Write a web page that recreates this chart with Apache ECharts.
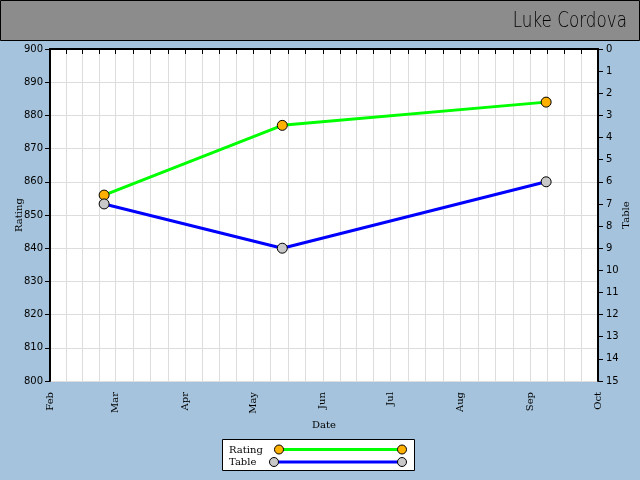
<!DOCTYPE html>
<html>
<head>
<meta charset="utf-8">
<script src="https://cdn.jsdelivr.net/npm/echarts@6/dist/echarts.min.js"></script>
<style>html,body{margin:0;padding:0;}#c{width:640px;height:480px;}</style>
</head>
<body>
<div id="c"></div>
<script>
// ---- data ----
var dates = ['2012-02-25', '2012-05-14', '2012-09-08'];
var rating = [856, 877, 884];
var table = [7, 9, 6];
var monthNames = ['Jan','Feb','Mar','Apr','May','Jun','Jul','Aug','Sep','Oct','Nov','Dec'];
var monthStarts = ['2012-02-01','2012-03-01','2012-04-01','2012-05-01','2012-06-01','2012-07-01','2012-08-01','2012-09-01','2012-10-01'];
var titleText = 'Luke Cordova';

// ---- styles ----
var GREEN = '#00ff00', BLUE = '#0000ff', ORANGE = '#ffb000', GREY = '#c8c8c8';
var SERIF = 'DejaVu Serif', SANS = 'DejaVu Sans';

function ts(s) { var p = s.split('-'); return new Date(+p[0], +p[1] - 1, +p[2]).getTime(); }
var monthTs = monthStarts.map(ts);
var quarterTicks = [];
for (var i = 0; i < monthTs.length - 1; i++) {
  var a = monthTs[i], b = monthTs[i + 1];
  for (var k = 0; k < 4; k++) quarterTicks.push(a + (b - a) * k / 4);
}
quarterTicks.push(monthTs[monthTs.length - 1]);

var chart = echarts.init(document.getElementById('c'), null, {renderer: 'canvas'});
chart.setOption({
  animation: false,
  backgroundColor: '#a5c3dc',
  grid: {left: 50, right: 42, top: 49, bottom: 99, show: true, backgroundColor: '#ffffff', borderWidth: 0,
         containLabel: false, outerBoundsMode: 'none'},
  xAxis: {
    type: 'value',
    min: monthTs[0], max: monthTs[monthTs.length - 1],
    name: 'Date', nameLocation: 'middle', nameGap: 39, nameMoveOverlap: false,
    nameTextStyle: {fontFamily: SERIF, fontSize: 10, color: '#000'},
    axisLine: {lineStyle: {color: '#000', width: 2}},
    axisTick: {show: true, length: 5, lineStyle: {color: '#000', width: 1}, customValues: quarterTicks},
    splitLine: {show: true, lineStyle: {color: '#dddddd', width: 1}},
    axisLabel: {
      customValues: monthTs, rotate: 90, margin: 11, color: '#000',
      fontFamily: SERIF, fontSize: 10,
      formatter: function (v) { return monthNames[new Date(v).getMonth()]; }
    }
  },
  yAxis: [{
    type: 'value', min: 800, max: 900, interval: 10, position: 'left',
    name: 'Rating', nameLocation: 'middle', nameGap: 26, nameRotate: 90, nameMoveOverlap: false,
    nameTextStyle: {fontFamily: SERIF, fontSize: 10, color: '#000'},
    axisLine: {show: true, lineStyle: {color: '#000', width: 2}},
    axisTick: {show: true, length: 5, lineStyle: {color: '#000'}},
    axisLabel: {color: '#000', fontFamily: SANS, fontSize: 10, margin: 7},
    splitLine: {show: true, lineStyle: {color: '#dddddd', width: 1}}
  }, {
    type: 'value', min: 0, max: 15, interval: 1, inverse: true, position: 'right',
    name: 'Table', nameLocation: 'middle', nameGap: 23, nameRotate: 90, nameMoveOverlap: false,
    nameTextStyle: {fontFamily: SERIF, fontSize: 10, color: '#000'},
    axisLine: {show: true, lineStyle: {color: '#000', width: 2}},
    axisTick: {show: true, length: 5, lineStyle: {color: '#000'}},
    axisLabel: {color: '#000', fontFamily: SANS, fontSize: 10, margin: 8},
    splitLine: {show: false}
  }],
  series: [{
    name: 'Rating', type: 'line', yAxisIndex: 0,
    data: dates.map(function (d, i) { return [ts(d), rating[i]]; }),
    symbol: 'circle', symbolSize: 10,
    lineStyle: {color: GREEN, width: 3},
    itemStyle: {color: ORANGE, borderColor: '#000', borderWidth: 1}
  }, {
    name: 'Table', type: 'line', yAxisIndex: 1,
    data: dates.map(function (d, i) { return [ts(d), table[i]]; }),
    symbol: 'circle', symbolSize: 10,
    lineStyle: {color: BLUE, width: 3},
    itemStyle: {color: GREY, borderColor: '#000', borderWidth: 1}
  }],
  graphic: [
    {type: 'rect', z: 10, shape: {x: 0.5, y: 0.5, width: 639, height: 40}, style: {fill: '#8c8c8c', stroke: '#000', lineWidth: 1}},
    {type: 'text', z: 11, x: 627, y: 22, scaleX: 0.8, style: {text: titleText, align: 'right', verticalAlign: 'middle', fontFamily: SANS, fontWeight: 200, fontSize: 21, fill: '#000'}},
    {type: 'rect', z: 10, shape: {x: 222.5, y: 439.5, width: 192, height: 31}, style: {fill: '#fff', stroke: '#000', lineWidth: 1}},
    {type: 'text', z: 11, x: 229, y: 450, style: {text: 'Rating', verticalAlign: 'middle', fontFamily: SERIF, fontSize: 10, fill: '#000'}},
    {type: 'text', z: 11, x: 229, y: 462, style: {text: 'Table', verticalAlign: 'middle', fontFamily: SERIF, fontSize: 10, fill: '#000'}},
    {type: 'line', z: 11, shape: {x1: 279, y1: 449.5, x2: 402, y2: 449.5}, style: {stroke: GREEN, lineWidth: 3}},
    {type: 'circle', z: 12, shape: {cx: 279, cy: 449.5, r: 4.5}, style: {fill: ORANGE, stroke: '#000', lineWidth: 1}},
    {type: 'circle', z: 12, shape: {cx: 402, cy: 449.5, r: 4.5}, style: {fill: ORANGE, stroke: '#000', lineWidth: 1}},
    {type: 'line', z: 11, shape: {x1: 274, y1: 462, x2: 402, y2: 462}, style: {stroke: BLUE, lineWidth: 3}},
    {type: 'circle', z: 12, shape: {cx: 274, cy: 462, r: 4.5}, style: {fill: GREY, stroke: '#000', lineWidth: 1}},
    {type: 'circle', z: 12, shape: {cx: 402, cy: 462, r: 4.5}, style: {fill: GREY, stroke: '#000', lineWidth: 1}}
  ]
});
</script>
</body>
</html>
